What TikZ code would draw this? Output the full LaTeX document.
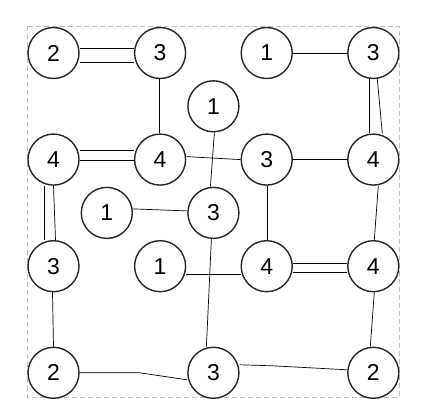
\documentclass[tikz,border=0pt]{standalone}
\usepackage{fontspec}
\setmainfont{Liberation Sans}

\begin{document}
\begin{tikzpicture}[x=53.3pt, y=-53.3pt,
    every node/.style={font=\fontsize{23}{24}\selectfont},
    island/.style={circle, draw=black!85, line width=1.4pt, fill=white, minimum size=51pt, inner sep=0pt},
    bridge/.style={line width=0.7pt}]
      \useasboundingbox (-53.5pt,53pt) rectangle (376.5pt,-366pt);
      % dashed frame of the board
      \draw[black!25, line width=0.8pt, dash pattern=on 5pt off 3pt] (-26.5pt,27pt) rectangle (345.5pt,-344pt);
      % islands, row 0
      \node[island] (n00) at (0,0) {2};
      \node[island] (n20) at (2,0) {3};
      \node[island] (n40) at (4,0) {1};
      \node[island] (n60) at (6,0) {3};
      % row 1
      \node[island] (n31) at (3,1) {1};
      % row 2
      \node[island] (n02) at (0,2) {4};
      \node[island] (n22) at (2,2) {4};
      \node[island] (n42) at (4,2) {3};
      \node[island] (n62) at (6,2) {4};
      % row 3
      \node[island] (n13) at (1,3) {1};
      \node[island] (n33) at (3,3) {3};
      % row 4
      \node[island] (n04) at (0,4) {3};
      \node[island] (n24) at (2,4) {1};
      \node[island] (n44) at (4,4) {4};
      \node[island] (n64) at (6,4) {4};
      % row 6
      \node[island] (n06) at (0,6) {2};
      \node[island] (n36) at (3,6) {3};
      \node[island] (n66) at (6,6) {2};
      % double bridges
      \draw[bridge] ([yshift=5pt]n00.east) -- ([yshift=5pt]n20.west);
      \draw[bridge] ([yshift=-9pt]n00.east) -- ([yshift=-9pt]n20.west);
      \draw[bridge] ([yshift=9pt]n02.east) -- ([yshift=9pt]n22.west);
      \draw[bridge] ([yshift=-1pt]n02.east) -- ([yshift=-1pt]n22.west);
      \draw[bridge] ([xshift=-9pt]n02.south) -- ([xshift=-9pt]n04.north);
      \draw[bridge] ([xshift=0pt]n02.south) -- ([xshift=2pt]n04.north);
      \draw[bridge] ([xshift=-4pt]n60.south) -- ([xshift=-4pt]n62.north);
      \draw[bridge] ([xshift=4pt]n60.south) -- ([xshift=9pt]n62.north);
      \draw[bridge] ([yshift=3pt]n44.east) -- ([yshift=3pt]n64.west);
      \draw[bridge] ([yshift=-6pt]n44.east) -- ([yshift=-6pt]n64.west);
      % single bridges
      \draw[bridge] ([xshift=-1pt]n20.south) -- ([xshift=-1pt]n22.north);
      \draw[bridge] ([yshift=3pt]n22.east) -- ([yshift=0pt]n42.west);
      \draw[bridge] ([xshift=1pt]n31.south) -- ([xshift=-3pt]n33.north);
      \draw[bridge] ([yshift=4pt]n13.east) -- ([yshift=2pt]n33.west);
      \draw[bridge] (n40.east) -- (n60.west);
      \draw[bridge] (n42.east) -- (n62.west);
      \draw[bridge] ([xshift=1pt]n42.south) -- ([xshift=1pt]n44.north);
      \draw[bridge] ([xshift=5pt]n62.south) -- ([xshift=1pt]n64.north);
      \draw[bridge] ([yshift=-8pt]n24.east) -- ([yshift=-8pt]n44.west);
      \draw[bridge] ([xshift=-2pt]n33.south) -- ([xshift=-7pt]n36.north);
      \draw[bridge] ([xshift=1pt]n64.south) -- ([xshift=-3pt]n66.north);
      \draw[bridge] ([xshift=-1pt]n04.south) -- ([xshift=0pt]n06.north);
      \draw[bridge] (n06.east) -- ++(60pt,0) -- ([yshift=-7pt]n36.west);
      \draw[bridge] ([yshift=8pt]n36.east) -- ++(33pt,-1pt) -- ([yshift=3pt]n66.west);
    \end{tikzpicture}
\end{document}
